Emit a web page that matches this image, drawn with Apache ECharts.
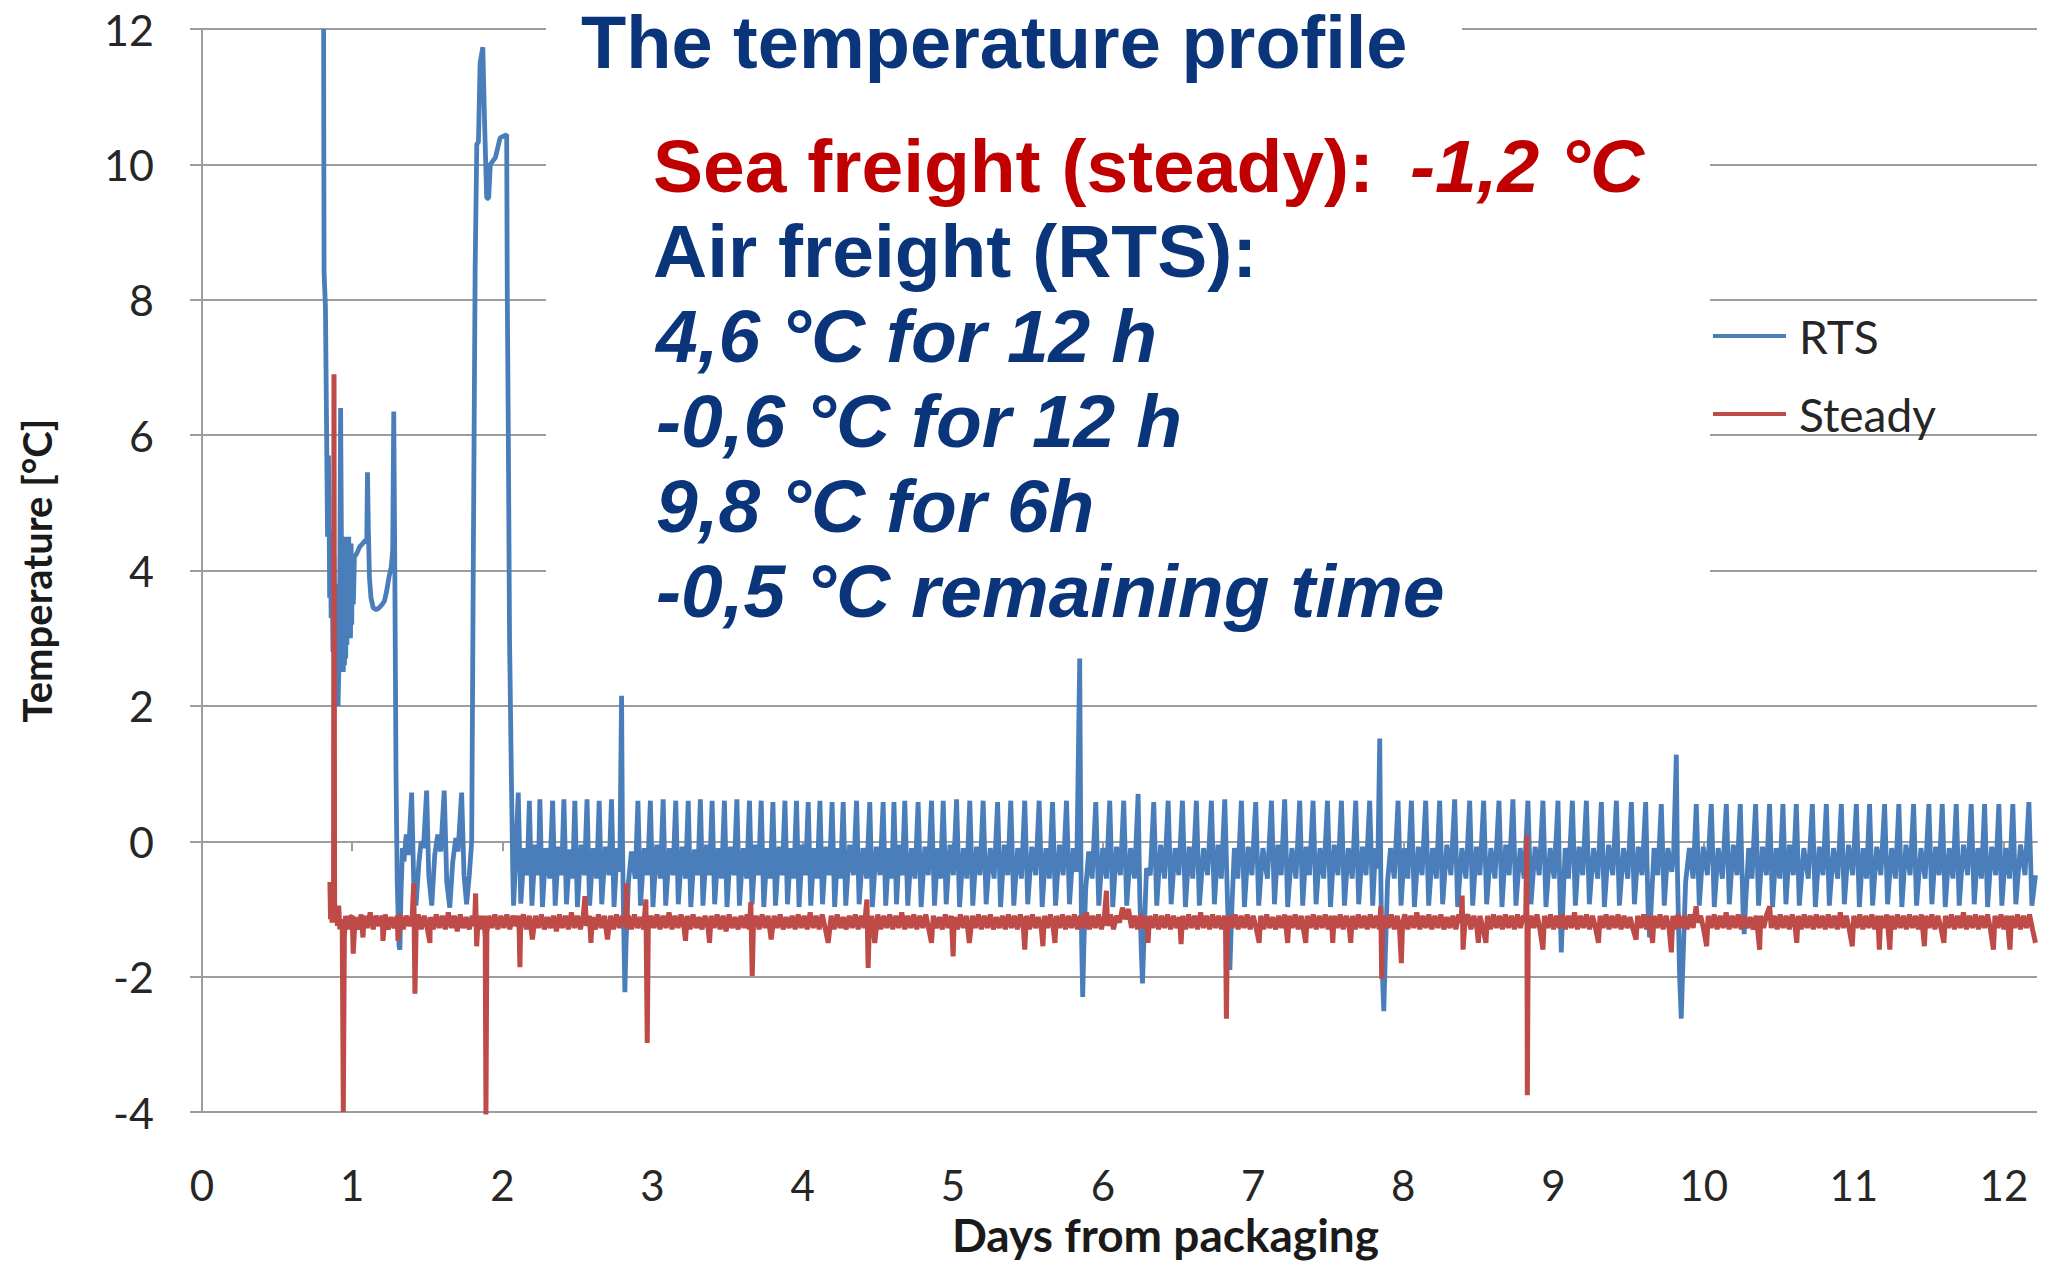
<!DOCTYPE html>
<html><head><meta charset="utf-8">
<script src="https://cdn.jsdelivr.net/npm/echarts@6/dist/echarts.min.js"></script>
<style>html,body{margin:0;padding:0;background:#fff}#c{width:2047px;height:1262px}</style>
</head><body><div id="c"></div>
<script>
// ---------- DATA ----------
const dayTicks = [0,1,2,3,4,5,6,7,8,9,10,11,12];
const seriesNames = ['RTS','Steady'];

// RTS: [day, temperature °C]
const rtsWarmup = [[0.810,12.0],[0.811,10.5],[0.813,8.4],[0.822,7.9],[0.830,6.0],[0.836,4.5],[0.842,5.7],[0.846,5.0],[0.85,3.6],[0.855,4.6],[0.86,3.3],[0.866,4.4],[0.872,2.8],[0.878,4.2],[0.884,2.6],[0.89,3.8],[0.896,2.2],[0.902,3.5],[0.906,2.0],[0.912,2.6],[0.918,4.0],[0.923,6.4],[0.928,4.6],[0.933,2.6],[0.937,4.3],[0.941,2.5],[0.945,4.5],[0.949,2.6],[0.953,4.4],[0.957,2.7],[0.961,4.5],[0.965,2.9],[0.969,4.4],[0.973,3.0],[0.977,4.5],[0.981,3.1],[0.985,4.3],[0.989,3.0],[0.993,4.4],[0.997,3.2],[1.002,4.2],[1.008,3.5],[1.015,4.2],[1.03,4.25],[1.05,4.35],[1.07,4.4],[1.09,4.45],[1.097,4.4],[1.102,5.45],[1.108,4.6],[1.115,3.9],[1.125,3.6],[1.14,3.45],[1.16,3.42],[1.18,3.45],[1.20,3.5],[1.215,3.55],[1.23,3.7],[1.245,3.9],[1.26,4.05],[1.27,4.3],[1.277,6.35],[1.284,4.0],[1.292,1.0],[1.30,-0.6],[1.312,-1.55],[1.318,-1.6]];
const rtsFirstCycles = [[1.325,-0.8],[1.335,-0.1],[1.345,-0.3],[1.36,0.1],[1.375,-0.2],[1.396,0.72],[1.41,-0.6],[1.425,-0.95],[1.445,-0.3],[1.46,0.0],[1.475,-0.1],[1.496,0.75],[1.51,-0.5],[1.53,-0.95],[1.55,-0.2],[1.57,0.1],[1.59,-0.15],[1.613,0.75],[1.63,-0.6],[1.65,-0.98],[1.67,-0.3],[1.69,0.05],[1.705,-0.15],[1.729,0.72],[1.745,-0.5],[1.762,-0.93],[1.78,-0.5],[1.796,0.0]];
const rtsSecondWarm = [[1.808,4.6],[1.819,8.46],[1.83,10.3],[1.841,10.33],[1.852,11.5],[1.87,11.73],[1.882,10.6],[1.896,9.5],[1.909,9.5],[1.92,10.0],[1.954,10.1],[1.985,10.39],[2.029,10.44],[2.033,8.1],[2.04,6.0],[2.048,3.0],[2.06,1.0],[2.07,-0.5],[2.075,-0.95],[2.09,-0.2]];
const rtsCyclesA = [[2.106,0.72],[2.123,-0.92],[2.146,-0.1],[2.166,-0.5],[2.180,0.6],[2.197,-0.95],[2.22,-0.05],[2.24,-0.5],[2.250,0.62],[2.267,-0.97],[2.29,-0.1],[2.315,-0.55],[2.335,0.6],[2.352,-0.95],[2.375,-0.08],[2.395,-0.5],[2.410,0.62],[2.427,-0.93],[2.45,-0.12],[2.468,-0.55],[2.483,0.6],[2.5,-0.97],[2.525,-0.05],[2.547,-0.5],[2.564,0.62],[2.581,-0.95],[2.605,-0.1],[2.628,-0.55],[2.645,0.6],[2.662,-0.93],[2.687,-0.08],[2.71,-0.5],[2.727,0.62],[2.744,-0.97],[2.765,-0.1],[2.782,-0.45],[2.794,2.15],[2.800,0.0],[2.808,-1.2],[2.816,-2.23],[2.824,-1.5],[2.84,-0.6],[2.86,-0.15],[2.885,-0.55],[2.903,0.6],[2.92,-0.95],[2.945,-0.1],[2.967,-0.5],[2.986,0.6],[3.003,-0.97],[3.028,-0.05],[3.052,-0.55],[3.071,0.62],[3.088,-0.95],[3.113,-0.1],[3.136,-0.5],[3.155,0.6],[3.172,-0.93],[3.197,-0.08],[3.22,-0.55],[3.238,0.6],[3.255,-0.97],[3.28,-0.12],[3.302,-0.5],[3.319,0.62],[3.336,-0.95],[3.36,-0.05],[3.38,-0.5],[3.397,0.6],[3.414,-0.93],[3.438,-0.1],[3.46,-0.55],[3.479,0.6],[3.496,-0.97],[3.52,-0.08],[3.543,-0.5],[3.562,0.62],[3.579,-0.95],[3.604,-0.1],[3.627,-0.55],[3.646,0.6],[3.663,-0.93],[3.686,-0.05],[3.706,-0.5],[3.724,0.6],[3.741,-0.97],[3.764,-0.1],[3.784,-0.55],[3.802,0.58],[3.819,-0.95],[3.843,-0.08],[3.864,-0.5],[3.882,0.6],[3.899,-0.93],[3.921,-0.1],[3.941,-0.55],[3.959,0.6],[3.976,-0.97],[3.999,-0.05],[4.019,-0.5],[4.037,0.58],[4.054,-0.95],[4.077,-0.1],[4.097,-0.55],[4.115,0.6],[4.132,-0.93],[4.156,-0.08],[4.178,-0.5],[4.196,0.58],[4.213,-0.97],[4.234,-0.1],[4.252,-0.55],[4.270,0.58],[4.287,-0.95],[4.313,-0.05],[4.338,-0.5],[4.359,0.6],[4.376,-0.93],[4.402,-0.1],[4.426,-0.55],[4.447,0.58],[4.464,-0.97],[4.49,-0.08],[4.515,-0.5],[4.536,0.58],[4.553,-0.95],[4.575,-0.1],[4.594,-0.55],[4.608,0.58],[4.625,-0.93],[4.645,-0.05],[4.664,-0.5]];
const rtsCyclesB = [[4.680,0.6],[4.70,-0.95],[4.725,-0.1],[4.748,-0.55],[4.769,0.58],[4.789,-0.97],[4.814,-0.08],[4.837,-0.5],[4.858,0.6],[4.878,-0.95],[4.9,-0.1],[4.918,-0.55],[4.936,0.6],[4.956,-0.93],[4.981,-0.05],[5.004,-0.5],[5.025,0.62],[5.045,-0.97],[5.07,-0.1],[5.093,-0.55],[5.113,0.6],[5.133,-0.95],[5.158,-0.08],[5.181,-0.5],[5.202,0.6],[5.222,-0.93],[5.249,-0.1],[5.275,-0.55],[5.298,0.58],[5.318,-0.97],[5.343,-0.05],[5.366,-0.5],[5.386,0.6],[5.406,-0.95],[5.432,-0.1],[5.457,-0.55],[5.479,0.6],[5.499,-0.93],[5.526,-0.08],[5.552,-0.5],[5.575,0.6],[5.595,-0.97],[5.62,-0.1],[5.643,-0.55],[5.664,0.58],[5.684,-0.95],[5.71,-0.05],[5.735,-0.5],[5.757,0.6],[5.777,-0.93],[5.802,-0.1],[5.825,-0.45],[5.845,2.7],[5.852,0.0],[5.858,-1.5],[5.865,-2.3],[5.872,-1.6],[5.885,-0.7],[5.905,-0.15],[5.928,-0.55],[5.952,0.58],[5.972,-0.95],[5.998,-0.1],[6.023,-0.55],[6.045,0.6],[6.065,-0.97],[6.09,-0.08],[6.116,-0.5],[6.138,0.6],[6.158,-0.95],[6.184,-0.1],[6.21,-0.55],[6.234,0.7],[6.245,-0.8],[6.255,-1.6],[6.263,-2.1],[6.272,-1.5],[6.29,-0.4],[6.315,-0.5],[6.338,0.58],[6.358,-0.95],[6.384,-0.05],[6.41,-0.55],[6.434,0.6],[6.454,-0.93],[6.48,-0.1],[6.505,-0.5],[6.529,0.6],[6.549,-0.97],[6.574,-0.08],[6.598,-0.55],[6.622,0.6],[6.642,-0.95],[6.67,-0.1],[6.697,-0.5],[6.722,0.6],[6.742,-0.93],[6.766,-0.05],[6.788,-0.55],[6.811,0.62],[6.83,-0.95],[6.845,-1.9],[6.858,-1.0],[6.875,-0.1],[6.898,-0.55],[6.922,0.6],[6.942,-0.97],[6.967,-0.08],[6.992,-0.5],[7.017,0.58],[7.037,-0.95],[7.065,-0.1],[7.095,-0.55],[7.122,0.6],[7.142,-0.93],[7.165,-0.05],[7.187,-0.5]];
const rtsCyclesC = [[7.210,0.62],[7.23,-0.97],[7.258,-0.1],[7.285,-0.55],[7.310,0.6],[7.33,-0.95],[7.353,-0.08],[7.375,-0.5],[7.399,0.6],[7.419,-0.93],[7.445,-0.1],[7.47,-0.55],[7.495,0.6],[7.515,-0.97],[7.54,-0.05],[7.565,-0.5],[7.588,0.6],[7.608,-0.95],[7.634,-0.1],[7.66,-0.55],[7.683,0.6],[7.703,-0.93],[7.728,-0.08],[7.752,-0.5],[7.776,0.6],[7.796,-0.95],[7.815,-0.1],[7.83,-0.4],[7.843,1.52],[7.85,-0.5],[7.858,-1.8],[7.870,-2.51],[7.88,-1.7],[7.895,-0.6],[7.915,-0.1],[7.94,-0.55],[7.965,0.6],[7.985,-0.95],[8.008,-0.1],[8.03,-0.55],[8.054,0.6],[8.074,-0.97],[8.1,-0.08],[8.125,-0.5],[8.149,0.6],[8.169,-0.95],[8.195,-0.1],[8.22,-0.55],[8.242,0.6],[8.262,-0.93],[8.29,-0.05],[8.317,-0.5],[8.342,0.62],[8.362,-0.97],[8.39,-0.1],[8.417,-0.55],[8.442,0.6],[8.462,-0.95],[8.487,-0.08],[8.51,-0.5],[8.535,0.6],[8.555,-0.93],[8.583,-0.1],[8.61,-0.55],[8.637,0.6],[8.657,-0.97],[8.682,-0.05],[8.705,-0.5],[8.730,0.62],[8.75,-0.95],[8.778,-0.1],[8.805,-0.55],[8.830,0.6],[8.85,-0.93],[8.878,-0.08],[8.905,-0.5],[8.930,0.6],[8.95,-0.97],[8.978,-0.1],[9.005,-0.55],[9.030,0.6],[9.045,-1.0],[9.052,-1.64],[9.062,-1.0],[9.078,-0.1],[9.1,-0.55],[9.126,0.6],[9.146,-0.95],[9.17,-0.08],[9.195,-0.5],[9.219,0.6],[9.239,-0.93],[9.267,-0.1],[9.295,-0.55],[9.319,0.58],[9.339,-0.97],[9.367,-0.05],[9.395,-0.5],[9.419,0.6],[9.439,-0.95],[9.467,-0.1],[9.495,-0.55],[9.519,0.58],[9.539,-0.93],[9.565,-0.08],[9.59,-0.5],[9.614,0.58],[9.63,-1.0],[9.64,-1.42],[9.652,-0.9],[9.67,-0.1],[9.695,-0.5]];
const rtsCyclesD = [[9.718,0.55],[9.738,-0.95],[9.762,-0.1],[9.788,-0.45],[9.8,-0.2],[9.818,1.28],[9.826,-0.5],[9.84,-2.0],[9.851,-2.62],[9.862,-1.8],[9.88,-0.6],[9.905,-0.1],[9.93,-0.55],[9.951,0.55],[9.971,-0.95],[9.997,-0.08],[10.025,-0.5],[10.051,0.55],[10.071,-0.97],[10.097,-0.1],[10.125,-0.55],[10.151,0.55],[10.171,-0.93],[10.197,-0.05],[10.222,-0.5],[10.244,0.55],[10.262,-1.0],[10.27,-1.37],[10.28,-0.9],[10.3,-0.1],[10.322,-0.55],[10.346,0.55],[10.366,-0.95],[10.392,-0.08],[10.418,-0.5],[10.439,0.55],[10.459,-0.97],[10.483,-0.1],[10.507,-0.55],[10.528,0.55],[10.548,-0.93],[10.572,-0.05],[10.597,-0.5],[10.617,0.55],[10.637,-0.95],[10.667,-0.1],[10.697,-0.55],[10.724,0.55],[10.744,-0.97],[10.77,-0.08],[10.795,-0.5],[10.817,0.55],[10.837,-0.95],[10.865,-0.1],[10.893,-0.55],[10.917,0.55],[10.937,-0.93],[10.965,-0.05],[10.993,-0.5],[11.017,0.55],[11.037,-0.97],[11.062,-0.1],[11.085,-0.55],[11.105,0.55],[11.125,-0.95],[11.153,-0.08],[11.18,-0.5],[11.205,0.55],[11.225,-0.93],[11.252,-0.1],[11.277,-0.55],[11.300,0.55],[11.32,-0.97],[11.347,-0.05],[11.375,-0.5],[11.398,0.55],[11.418,-0.95],[11.447,-0.1],[11.475,-0.55],[11.500,0.55],[11.52,-0.93],[11.545,-0.08],[11.568,-0.5],[11.589,0.55],[11.609,-0.97],[11.635,-0.1],[11.66,-0.55],[11.682,0.55],[11.702,-0.95],[11.73,-0.05],[11.758,-0.5],[11.782,0.55],[11.802,-0.93],[11.826,-0.1],[11.85,-0.55],[11.871,0.55],[11.891,-0.97],[11.918,-0.08],[11.945,-0.5],[11.966,0.55],[11.986,-0.95],[12.012,-0.1],[12.037,-0.55],[12.059,0.55],[12.079,-0.93],[12.11,-0.05],[12.14,-0.5],[12.166,0.58],[12.186,-0.95],[12.21,-0.5]];

// Steady: [day, temperature °C]
const steadyStart = [[0.852,-0.6],[0.856,-1.15],[0.861,-0.8],[0.866,-1.2],[0.871,-0.9],[0.876,-1.0],[0.879,6.9],[0.883,-0.9],[0.888,-1.2],[0.895,-1.0],[0.902,-1.25],[0.91,-0.95],[0.918,-1.3],[0.926,-1.15],[0.934,-1.3],[0.941,-4.0],[0.948,-1.4],[0.956,-1.1],[0.964,-1.25],[0.972,-1.1],[0.98,-1.3],[0.99,-1.12]];
const steadyDays1to3 = [[1.00,-1.1],[1.007,-1.66],[1.02,-1.12],[1.04,-1.3],[1.06,-1.08],[1.072,-1.42],[1.08,-1.1],[1.10,-1.28],[1.12,-1.05],[1.14,-1.3],[1.16,-1.1],[1.18,-1.25],[1.20,-1.1],[1.205,-1.47],[1.22,-1.08],[1.24,-1.3],[1.26,-1.12],[1.28,-1.28],[1.30,-1.1],[1.305,-1.47],[1.32,-1.08],[1.34,-1.3],[1.36,-1.1],[1.38,-1.25],[1.40,-1.1],[1.41,-0.62],[1.418,-2.25],[1.426,-1.25],[1.44,-1.08],[1.46,-1.3],[1.48,-1.1],[1.50,-1.28],[1.518,-1.5],[1.52,-1.12],[1.54,-1.3],[1.56,-1.08],[1.58,-1.28],[1.60,-1.1],[1.62,-1.3],[1.64,-1.05],[1.66,-1.28],[1.68,-1.1],[1.70,-1.33],[1.72,-1.08],[1.74,-1.28],[1.76,-1.12],[1.78,-1.3],[1.80,-1.1],[1.815,-1.25],[1.822,-0.77],[1.829,-1.55],[1.84,-1.1],[1.86,-1.3],[1.875,-1.1],[1.886,-1.4],[1.891,-4.05],[1.897,-1.35],[1.91,-1.1],[1.93,-1.28],[1.95,-1.08],[1.97,-1.3],[1.99,-1.1],[2.01,-1.28],[2.03,-1.08],[2.05,-1.3],[2.07,-1.1],[2.09,-1.25],[2.105,-1.1],[2.112,-1.3],[2.117,-1.86],[2.122,-1.25],[2.14,-1.08],[2.16,-1.3],[2.18,-1.1],[2.20,-1.45],[2.22,-1.1],[2.24,-1.28],[2.26,-1.08],[2.28,-1.3],[2.30,-1.12],[2.32,-1.28],[2.34,-1.1],[2.36,-1.33],[2.38,-1.08],[2.40,-1.28],[2.42,-1.1],[2.44,-1.3],[2.46,-1.05],[2.48,-1.28],[2.50,-1.1],[2.52,-1.3],[2.54,-1.08],[2.55,-0.81],[2.56,-1.25],[2.58,-1.1],[2.59,-1.5],[2.60,-1.12],[2.62,-1.3],[2.64,-1.08],[2.66,-1.28],[2.68,-1.1],[2.70,-1.45],[2.72,-1.1],[2.74,-1.3],[2.76,-1.08],[2.78,-1.28],[2.80,-1.1],[2.82,-1.25],[2.827,-0.62],[2.832,-1.3],[2.84,-1.1],[2.86,-1.3],[2.88,-1.08],[2.90,-1.28],[2.92,-1.12],[2.94,-1.3],[2.956,-0.86],[2.965,-2.98],[2.972,-1.3],[2.99,-1.1]];
const steadyDays3to6 = [[3.01,-1.28],[3.03,-1.08],[3.05,-1.3],[3.07,-1.1],[3.09,-1.28],[3.11,-1.05],[3.13,-1.3],[3.15,-1.1],[3.17,-1.28],[3.19,-1.08],[3.21,-1.28],[3.22,-1.47],[3.23,-1.1],[3.25,-1.3],[3.27,-1.08],[3.29,-1.28],[3.31,-1.12],[3.33,-1.3],[3.35,-1.1],[3.37,-1.28],[3.38,-1.5],[3.39,-1.1],[3.41,-1.28],[3.43,-1.08],[3.45,-1.3],[3.47,-1.1],[3.49,-1.33],[3.51,-1.08],[3.53,-1.28],[3.55,-1.12],[3.57,-1.3],[3.59,-1.1],[3.61,-1.28],[3.63,-1.08],[3.645,-1.3],[3.655,-0.9],[3.664,-1.99],[3.672,-1.25],[3.69,-1.1],[3.71,-1.3],[3.73,-1.08],[3.75,-1.28],[3.77,-1.1],[3.79,-1.45],[3.81,-1.1],[3.83,-1.28],[3.85,-1.08],[3.87,-1.3],[3.89,-1.12],[3.91,-1.28],[3.93,-1.1],[3.95,-1.3],[3.97,-1.08],[3.99,-1.28],[4.01,-1.1],[4.03,-1.3],[4.05,-1.05],[4.07,-1.28],[4.09,-1.1],[4.11,-1.3],[4.13,-1.08],[4.15,-1.28],[4.17,-1.5],[4.19,-1.1],[4.21,-1.3],[4.23,-1.08],[4.25,-1.28],[4.27,-1.12],[4.29,-1.3],[4.31,-1.1],[4.33,-1.28],[4.35,-1.08],[4.37,-1.3],[4.39,-1.1],[4.41,-1.28],[4.428,-0.86],[4.436,-1.87],[4.444,-1.25],[4.46,-1.1],[4.48,-1.5],[4.50,-1.08],[4.52,-1.3],[4.54,-1.1],[4.56,-1.28],[4.58,-1.08],[4.60,-1.3],[4.62,-1.1],[4.64,-1.28],[4.66,-1.05],[4.68,-1.3],[4.70,-1.1],[4.72,-1.28],[4.74,-1.08],[4.76,-1.3],[4.78,-1.1],[4.80,-1.28],[4.82,-1.08],[4.84,-1.3],[4.858,-1.5],[4.87,-1.1],[4.89,-1.28],[4.91,-1.12],[4.93,-1.3],[4.95,-1.08],[4.97,-1.28],[4.99,-1.1],[5.002,-1.7],[5.01,-1.12],[5.03,-1.3],[5.05,-1.08],[5.07,-1.28],[5.09,-1.1],[5.11,-1.5],[5.13,-1.1],[5.15,-1.28],[5.17,-1.08],[5.19,-1.3],[5.21,-1.1],[5.23,-1.28],[5.25,-1.08],[5.27,-1.3],[5.29,-1.12],[5.31,-1.28],[5.33,-1.1],[5.35,-1.3],[5.37,-1.08],[5.39,-1.28],[5.41,-1.1],[5.43,-1.3],[5.45,-1.08],[5.47,-1.28],[5.479,-1.6],[5.49,-1.1],[5.51,-1.3],[5.53,-1.08],[5.55,-1.28],[5.57,-1.12],[5.59,-1.3],[5.60,-1.55],[5.61,-1.1],[5.63,-1.28],[5.65,-1.08],[5.67,-1.3],[5.68,-1.5],[5.69,-1.1],[5.71,-1.28],[5.73,-1.08],[5.75,-1.3],[5.77,-1.1],[5.79,-1.28],[5.81,-1.08],[5.83,-1.3],[5.85,-1.1],[5.87,-1.28],[5.89,-1.05],[5.91,-1.3],[5.93,-1.1],[5.95,-1.28],[5.97,-1.08],[5.99,-1.3]];
const steadyDays6to9 = [[6.01,-1.1],[6.023,-0.73],[6.03,-1.25],[6.05,-1.08],[6.07,-1.3],[6.09,-1.1],[6.11,-1.2],[6.13,-0.98],[6.15,-1.15],[6.17,-1.0],[6.19,-1.28],[6.21,-1.1],[6.23,-1.3],[6.25,-1.08],[6.27,-1.28],[6.29,-1.12],[6.30,-1.5],[6.31,-1.1],[6.33,-1.28],[6.35,-1.08],[6.37,-1.3],[6.39,-1.1],[6.41,-1.28],[6.43,-1.08],[6.45,-1.3],[6.47,-1.1],[6.49,-1.28],[6.51,-1.12],[6.52,-1.52],[6.53,-1.1],[6.55,-1.3],[6.57,-1.08],[6.59,-1.28],[6.61,-1.1],[6.63,-1.3],[6.65,-1.05],[6.67,-1.28],[6.69,-1.1],[6.71,-1.3],[6.73,-1.08],[6.75,-1.28],[6.77,-1.1],[6.79,-1.3],[6.81,-1.1],[6.816,-1.25],[6.822,-2.62],[6.829,-1.3],[6.84,-1.1],[6.86,-1.28],[6.88,-1.08],[6.90,-1.3],[6.92,-1.1],[6.94,-1.28],[6.96,-1.08],[6.98,-1.3],[7.00,-1.1],[7.02,-1.28],[7.04,-1.5],[7.05,-1.1],[7.07,-1.3],[7.09,-1.08],[7.11,-1.28],[7.13,-1.12],[7.15,-1.3],[7.17,-1.1],[7.19,-1.28],[7.21,-1.08],[7.23,-1.5],[7.24,-1.1],[7.26,-1.28],[7.28,-1.08],[7.30,-1.3],[7.32,-1.1],[7.35,-1.5],[7.36,-1.1],[7.38,-1.28],[7.40,-1.08],[7.42,-1.3],[7.44,-1.1],[7.46,-1.28],[7.48,-1.08],[7.50,-1.3],[7.52,-1.1],[7.53,-1.5],[7.54,-1.1],[7.56,-1.28],[7.58,-1.08],[7.60,-1.3],[7.62,-1.1],[7.64,-1.28],[7.65,-1.5],[7.66,-1.1],[7.68,-1.3],[7.70,-1.08],[7.72,-1.28],[7.74,-1.1],[7.76,-1.3],[7.78,-1.08],[7.80,-1.28],[7.82,-1.1],[7.84,-1.3],[7.85,-0.96],[7.856,-2.03],[7.862,-1.3],[7.88,-1.1],[7.90,-1.28],[7.92,-1.08],[7.94,-1.3],[7.96,-1.1],[7.975,-1.3],[7.987,-1.8],[7.995,-1.2],[8.01,-1.08],[8.03,-1.3],[8.05,-1.1],[8.07,-1.28],[8.09,-1.05],[8.11,-1.3],[8.13,-1.1],[8.15,-1.28],[8.17,-1.08],[8.19,-1.3],[8.21,-1.1],[8.23,-1.28],[8.25,-1.08],[8.27,-1.3],[8.29,-1.12],[8.31,-1.28],[8.33,-1.1],[8.35,-1.3],[8.37,-1.08],[8.385,-1.2],[8.392,-0.8],[8.398,-1.6],[8.41,-1.2],[8.43,-1.08],[8.45,-1.3],[8.47,-1.1],[8.49,-1.28],[8.50,-1.5],[8.51,-1.1],[8.53,-1.28],[8.55,-1.5],[8.56,-1.1],[8.58,-1.3],[8.60,-1.08],[8.62,-1.28],[8.64,-1.1],[8.66,-1.3],[8.68,-1.08],[8.70,-1.28],[8.72,-1.1],[8.74,-1.3],[8.76,-1.08],[8.78,-1.28],[8.80,-1.1],[8.815,-1.15],[8.822,0.09],[8.826,-3.75],[8.832,-1.3],[8.85,-1.1],[8.87,-1.28],[8.89,-1.08],[8.91,-1.3],[8.93,-1.6],[8.94,-1.1],[8.96,-1.28],[8.98,-1.08]];
const steadyDays9to12 = [[9.00,-1.3],[9.02,-1.1],[9.04,-1.28],[9.06,-1.08],[9.08,-1.3],[9.10,-1.1],[9.12,-1.28],[9.14,-1.05],[9.16,-1.3],[9.18,-1.1],[9.20,-1.28],[9.22,-1.08],[9.24,-1.3],[9.26,-1.1],[9.28,-1.28],[9.30,-1.5],[9.31,-1.1],[9.33,-1.28],[9.35,-1.08],[9.37,-1.3],[9.39,-1.1],[9.41,-1.28],[9.43,-1.08],[9.45,-1.3],[9.47,-1.1],[9.49,-1.28],[9.51,-1.12],[9.53,-1.3],[9.55,-1.45],[9.56,-1.1],[9.58,-1.28],[9.60,-1.08],[9.62,-1.3],[9.64,-1.1],[9.66,-1.5],[9.67,-1.1],[9.69,-1.28],[9.71,-1.08],[9.73,-1.3],[9.75,-1.1],[9.77,-1.28],[9.785,-1.64],[9.795,-1.1],[9.81,-1.3],[9.83,-1.08],[9.85,-1.28],[9.87,-1.1],[9.89,-1.3],[9.91,-1.08],[9.93,-1.28],[9.95,-0.96],[9.96,-1.2],[9.98,-1.1],[10.00,-1.3],[10.02,-1.55],[10.03,-1.1],[10.05,-1.28],[10.07,-1.08],[10.09,-1.3],[10.11,-1.1],[10.13,-1.28],[10.15,-1.05],[10.17,-1.3],[10.19,-1.1],[10.21,-1.28],[10.23,-1.08],[10.25,-1.3],[10.27,-1.1],[10.29,-1.28],[10.31,-1.12],[10.33,-1.3],[10.35,-1.1],[10.373,-1.6],[10.38,-1.1],[10.40,-1.28],[10.42,-1.08],[10.44,-0.96],[10.45,-1.28],[10.47,-1.1],[10.49,-1.3],[10.51,-1.08],[10.53,-1.28],[10.55,-1.1],[10.57,-1.3],[10.59,-1.08],[10.61,-1.28],[10.62,-1.5],[10.63,-1.1],[10.65,-1.3],[10.67,-1.08],[10.69,-1.28],[10.71,-1.1],[10.73,-1.3],[10.75,-1.08],[10.77,-1.28],[10.79,-1.1],[10.81,-1.3],[10.83,-1.08],[10.85,-1.28],[10.87,-1.1],[10.89,-1.3],[10.91,-1.05],[10.93,-1.28],[10.95,-1.1],[10.97,-1.3],[10.99,-1.55],[11.00,-1.1],[11.02,-1.28],[11.04,-1.08],[11.06,-1.3],[11.08,-1.1],[11.10,-1.28],[11.12,-1.08],[11.14,-1.3],[11.16,-1.1],[11.17,-1.6],[11.18,-1.1],[11.20,-1.28],[11.22,-1.08],[11.24,-1.6],[11.25,-1.1],[11.27,-1.3],[11.29,-1.08],[11.31,-1.28],[11.33,-1.1],[11.35,-1.3],[11.37,-1.08],[11.39,-1.28],[11.41,-1.1],[11.43,-1.3],[11.45,-1.08],[11.47,-1.55],[11.48,-1.1],[11.50,-1.28],[11.52,-1.08],[11.54,-1.3],[11.56,-1.1],[11.58,-1.28],[11.60,-1.5],[11.61,-1.1],[11.63,-1.28],[11.65,-1.08],[11.67,-1.3],[11.69,-1.1],[11.71,-1.28],[11.73,-1.05],[11.75,-1.3],[11.77,-1.1],[11.79,-1.28],[11.81,-1.08],[11.83,-1.3],[11.85,-1.1],[11.87,-1.28],[11.89,-1.08],[11.91,-1.3],[11.93,-1.6],[11.94,-1.1],[11.96,-1.28],[11.98,-1.08],[12.00,-1.3],[12.02,-1.1],[12.04,-1.6],[12.05,-1.1],[12.07,-1.28],[12.09,-1.08],[12.11,-1.3],[12.13,-1.1],[12.15,-1.28],[12.17,-1.08],[12.19,-1.3],[12.21,-1.5]];

// ---------- CHART ----------
const rtsData = [].concat(rtsWarmup, rtsFirstCycles, rtsSecondWarm, rtsCyclesA, rtsCyclesB, rtsCyclesC, rtsCyclesD);
const steadyData = [].concat(steadyStart, steadyDays1to3, steadyDays3to6, steadyDays6to9, steadyDays9to12);

const NAVY = '#0b357a', RED = '#c00000', GRID = '#9d9d9d', LABEL = '#262626';
const bodyFont = (italic) => (italic ? 'italic ' : '') + 'bold 75px "Liberation Sans", Arial, sans-serif';
function txt(text, x, y, font, fill) {
  return { type: 'text', x: x, y: y, z: 60,
    style: { text: text, font: font, fill: fill, align: 'left', verticalAlign: 'middle', textAlign: 'left', textVerticalAlign: 'middle' } };
}

const chart = echarts.init(document.getElementById('c'), null, { renderer: 'svg' });
chart.setOption({
  animation: false,
  backgroundColor: '#ffffff',
  textStyle: { fontFamily: 'Lato' },
  grid: { left: 202, right: 10, top: 29, bottom: 139, containLabel: false },
  legend: {
    orient: 'vertical', left: 1713, top: 313, padding: 0,
    itemWidth: 73, itemHeight: 4, itemGap: 32, icon: 'rect',
    textStyle: { fontSize: 46, lineHeight: 46, color: LABEL, fontFamily: 'Lato', padding: [0, 0, 0, 8] },
    data: seriesNames
  },
  xAxis: [
    { type: 'value', min: 0, max: 12.22, position: 'bottom',
      axisLine: { show: true, onZero: true, lineStyle: { color: GRID, width: 2 } },
      axisTick: { show: true, length: 10, customValues: dayTicks, lineStyle: { color: GRID, width: 2 } },
      axisLabel: { show: false }, splitLine: { show: false } },
    { type: 'value', min: 0, max: 12.22, position: 'bottom',
      axisLine: { show: false, onZero: false }, axisTick: { show: false }, splitLine: { show: false },
      axisLabel: { show: true, customValues: dayTicks, margin: 52, fontSize: 42, color: LABEL, fontFamily: 'Lato' },
      name: 'Days from packaging', nameLocation: 'middle', nameGap: 96,
      nameTextStyle: { fontSize: 46, fontWeight: 'bold', color: '#1a1a1a', fontFamily: 'Lato', padding: [0, 0, 0, 92] } }
  ],
  yAxis: {
    type: 'value', min: -4, max: 12, interval: 2,
    axisLine: { show: true, onZero: false, lineStyle: { color: GRID, width: 2 } },
    axisTick: { show: true, length: 12, lineStyle: { color: GRID, width: 2 } },
    axisLabel: { margin: 48, fontSize: 43, color: LABEL, fontFamily: 'Lato' },
    splitLine: { show: true, lineStyle: { color: GRID, width: 2 } },
    name: 'Temperature [°C]', nameLocation: 'middle', nameGap: 145,
    nameTextStyle: { fontSize: 40, fontWeight: 'bold', color: '#1a1a1a', fontFamily: 'Lato' }
  },
  series: [
    { name: seriesNames[0], type: 'line', xAxisIndex: 0, data: rtsData, symbol: 'none', showSymbol: false,
      lineStyle: { color: '#4a7ebb', width: 4.8 }, itemStyle: { color: '#4a7ebb' }, z: 2, clip: true },
    { name: seriesNames[1], type: 'line', xAxisIndex: 0, data: steadyData, symbol: 'none', showSymbol: false,
      lineStyle: { color: '#be4b48', width: 5 }, itemStyle: { color: '#be4b48' }, z: 3, clip: true }
  ],
  graphic: [
    { type: 'rect', z: 50, shape: { x: 546, y: 0, width: 916, height: 66 }, style: { fill: '#ffffff' } },
    { type: 'rect', z: 50, shape: { x: 546, y: 100, width: 1164, height: 540 }, style: { fill: '#ffffff' } },
    txt('The temperature profile', 581, 42, 'bold 74px "Liberation Sans", Arial, sans-serif', NAVY),
    txt('Sea freight (steady):', 653, 166, bodyFont(false), RED),
    txt('-1,2 °C', 1410, 166, bodyFont(true), RED),
    txt('Air freight (RTS):', 653, 251, bodyFont(false), NAVY),
    txt('4,6 °C for 12 h', 656, 336, bodyFont(true), NAVY),
    txt('-0,6 °C for 12 h', 656, 421, bodyFont(true), NAVY),
    txt('9,8 °C for 6h', 656, 506, bodyFont(true), NAVY),
    txt('-0,5 °C remaining time', 656, 591, bodyFont(true), NAVY)
  ]
});
</script></body></html>
